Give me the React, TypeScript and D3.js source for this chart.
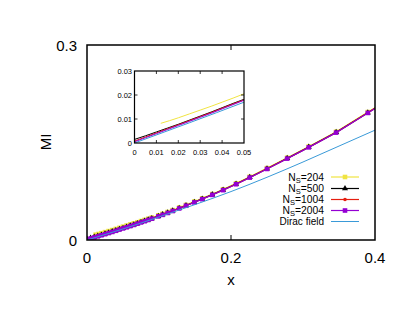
import React from "react";
import * as d3 from "d3";

// x grid shared by N_S=500, 1004, 2004
const xGrid = [0, 0.005, 0.01, 0.015, 0.02, 0.025, 0.03, 0.035, 0.04, 0.045, 0.05, 0.055, 0.06, 0.065, 0.07, 0.075, 0.08, 0.085, 0.09, 0.099, 0.105, 0.112, 0.119, 0.128, 0.1375, 0.149, 0.16, 0.174, 0.189, 0.207, 0.226, 0.25, 0.278, 0.308, 0.346, 0.39, 0.44];
const mi500 = [0.0015, 0.003, 0.0046, 0.0062, 0.0078, 0.0095, 0.0112, 0.0129, 0.0147, 0.0165, 0.0182, 0.02, 0.0218, 0.0236, 0.0255, 0.0274, 0.0293, 0.0312, 0.0332, 0.0367, 0.0391, 0.042, 0.045, 0.0489, 0.0531, 0.0582, 0.0632, 0.0698, 0.0771, 0.0862, 0.0964, 0.1097, 0.1256, 0.1429, 0.1656, 0.1959, 0.2304];
const mi1004 = [0.0008, 0.0025, 0.0042, 0.0059, 0.0076, 0.0093, 0.011, 0.0127, 0.0145, 0.0163, 0.018, 0.0198, 0.0216, 0.0234, 0.0253, 0.0272, 0.0291, 0.031, 0.033, 0.0365, 0.0389, 0.0418, 0.0448, 0.0487, 0.0529, 0.058, 0.063, 0.0696, 0.0769, 0.086, 0.0962, 0.1095, 0.1254, 0.1427, 0.1654, 0.1957, 0.2302];
const mi2004 = [0.0005, 0.0022, 0.0039, 0.0056, 0.0073, 0.009, 0.0107, 0.0124, 0.0142, 0.016, 0.0178, 0.0196, 0.0214, 0.0232, 0.0251, 0.027, 0.0289, 0.0308, 0.0328, 0.0363, 0.0387, 0.0416, 0.0446, 0.0485, 0.0527, 0.0578, 0.0628, 0.0694, 0.0767, 0.0858, 0.096, 0.1093, 0.1252, 0.1425, 0.1652, 0.1955, 0.23];

// N_S=204 starts later
const x204 = [0.012, 0.016, 0.02, 0.025, 0.03, 0.035, 0.04, 0.045, 0.05, 0.055, 0.06, 0.065, 0.07, 0.075, 0.08, 0.085, 0.09, 0.099, 0.105, 0.112, 0.119, 0.128, 0.1375, 0.149, 0.16, 0.174, 0.189, 0.207, 0.226, 0.25, 0.278, 0.308, 0.346, 0.39, 0.44];
const mi204 = [0.0082, 0.0093, 0.0105, 0.0121, 0.0137, 0.0153, 0.017, 0.0187, 0.0205, 0.0222, 0.0239, 0.0256, 0.0273, 0.0291, 0.0309, 0.0327, 0.0346, 0.038, 0.0403, 0.0431, 0.046, 0.0499, 0.054, 0.0591, 0.0641, 0.0707, 0.078, 0.0871, 0.0973, 0.1106, 0.1265, 0.1438, 0.1665, 0.1968, 0.2313];

const xDirac = [0, 0.025, 0.05, 0.075, 0.1, 0.15, 0.2, 0.25, 0.3, 0.35, 0.4];
const miDirac = [0, 0.0084, 0.017, 0.0261, 0.0355, 0.0545, 0.0745, 0.0965, 0.12, 0.1445, 0.169];

const mainXTicks = [0, 0.2, 0.4];
const mainYTicks = [0, 0.3];
const insetXTicks = [0, 0.01, 0.02, 0.03, 0.04, 0.05];
const insetYTicks = [0, 0.01, 0.02, 0.03];

const series = [
  { sub: "204", xs: x204, ys: mi204, color: "#f0e442", marker: "square" },
  { sub: "500", xs: xGrid, ys: mi500, color: "#000000", marker: "triangle" },
  { sub: "1004", xs: xGrid, ys: mi1004, color: "#e51e10", marker: "circle" },
  { sub: "2004", xs: xGrid, ys: mi2004, color: "#9400d3", marker: "square" },
];
const diracColor = "#3a9ad8";

const font = "'Liberation Sans', Arial, sans-serif";

function Marker({ type, x, y, color }: { type: string; x: number; y: number; color: string }) {
  if (type === "square") return <rect x={x - 2.3} y={y - 2.3} width={4.6} height={4.6} fill={color} />;
  if (type === "triangle") {
    const p = d3.symbol(d3.symbolTriangle, 16)();
    return <path d={p || ""} transform={`translate(${x},${y})`} fill={color} />;
  }
  return <circle cx={x} cy={y} r={1.8} fill={color} />;
}

export default function App() {
  const x = d3.scaleLinear().domain([0, 0.4]).range([87, 375]);
  const y = d3.scaleLinear().domain([0, 0.3]).range([240, 45]);
  const ix = d3.scaleLinear().domain([0, 0.05]).range([134.5, 244]);
  const iy = d3.scaleLinear().domain([0, 0.03]).range([143, 71]);

  const lineMain = (xs: number[], ys: number[], curve = d3.curveLinear) =>
    d3.line<number>().x((_, i) => x(xs[i])).y((d) => y(d)).curve(curve)(ys) || "";
  const lineInset = (xs: number[], ys: number[], curve = d3.curveLinear) =>
    d3.line<number>().x((_, i) => ix(xs[i])).y((d) => iy(d)).curve(curve)(ys) || "";

  const legendY = [177, 188.5, 199.5, 210.5, 221.5];

  return (
    <svg width={415} height={321} style={{ position: "absolute", left: 0, top: 0, background: "#fff" }} fontFamily={font}>
      <defs>
        <clipPath id="mainClip"><rect x={87} y={45} width={288} height={195} /></clipPath>
        <clipPath id="insetClip"><rect x={134.5} y={71} width={109.5} height={72} /></clipPath>
      </defs>

      <g clipPath="url(#mainClip)">
        {series.map((s) => (
          <g key={s.sub}>
            <path d={lineMain(s.xs, s.ys)} fill="none" stroke={s.color} strokeWidth={1.2} />
            {s.xs.map((xv, i) => (
              <Marker key={i} type={s.marker} x={x(xv)} y={y(s.ys[i])} color={s.color} />
            ))}
          </g>
        ))}
        <path d={lineMain(xDirac, miDirac, d3.curveMonotoneX)} fill="none" stroke={diracColor} strokeWidth={1} />
      </g>

      {/* main frame and ticks */}
      <rect x={87} y={45} width={288} height={195} fill="none" stroke="#000" strokeWidth={1.5} />
      {mainXTicks.slice(1, -1).map((t) => (
        <g key={t}>
          <line x1={x(t)} x2={x(t)} y1={240} y2={235} stroke="#000" />
          <line x1={x(t)} x2={x(t)} y1={45} y2={50} stroke="#000" />
        </g>
      ))}
      {mainXTicks.map((t) => (
        <text key={t} x={x(t)} y={263} fontSize={15} textAnchor="middle">{d3.format("")(t)}</text>
      ))}
      {mainYTicks.map((t) => (
        <text key={t} x={77} y={y(t) + 5.5} fontSize={15} textAnchor="end">{t}</text>
      ))}
      <text x={231} y={285} fontSize={15} textAnchor="middle">x</text>
      <text transform="translate(51,142) rotate(-90)" fontSize={15} textAnchor="middle">MI</text>

      {/* legend */}
      {series.map((s, i) => (
        <g key={s.sub}>
          <text x={324} y={legendY[i] + 3.5} fontSize={10.3} textAnchor="end">
            N<tspan fontSize={7.5} dy={2}>S</tspan><tspan dy={-2}>={s.sub}</tspan>
          </text>
          <line x1={331} x2={359} y1={legendY[i]} y2={legendY[i]} stroke={s.color} strokeWidth={1.2} />
          <Marker type={s.marker} x={345} y={legendY[i]} color={s.color} />
        </g>
      ))}
      <text x={324} y={legendY[4] + 3.5} fontSize={10} textAnchor="end">Dirac field</text>
      <line x1={331} x2={359} y1={legendY[4]} y2={legendY[4]} stroke={diracColor} strokeWidth={1} />

      {/* inset */}
      <rect x={134.5} y={71} width={109.5} height={72} fill="#fff" />
      <g clipPath="url(#insetClip)">
        {series.map((s) => (
          <path key={s.sub} d={lineInset(s.xs, s.ys)} fill="none" stroke={s.color} strokeWidth={1} />
        ))}
        <path d={lineInset(xDirac, miDirac, d3.curveMonotoneX)} fill="none" stroke={diracColor} strokeWidth={1} />
      </g>
      <rect x={134.5} y={71} width={109.5} height={72} fill="none" stroke="#000" strokeWidth={1.2} />
      {insetXTicks.slice(1, -1).map((t) => (
        <g key={t}>
          <line x1={ix(t)} x2={ix(t)} y1={143} y2={140} stroke="#000" strokeWidth={0.8} />
          <line x1={ix(t)} x2={ix(t)} y1={71} y2={74} stroke="#000" strokeWidth={0.8} />
        </g>
      ))}
      {insetYTicks.slice(1, -1).map((t) => (
        <g key={t}>
          <line x1={134.5} x2={137.5} y1={iy(t)} y2={iy(t)} stroke="#000" strokeWidth={0.8} />
          <line x1={244} x2={241} y1={iy(t)} y2={iy(t)} stroke="#000" strokeWidth={0.8} />
        </g>
      ))}
      {insetXTicks.map((t) => (
        <text key={t} x={ix(t)} y={155} fontSize={7.5} textAnchor="middle">{t}</text>
      ))}
      {insetYTicks.map((t) => (
        <text key={t} x={132} y={iy(t) + 2.7} fontSize={7.5} textAnchor="end">{t}</text>
      ))}
    </svg>
  );
}
